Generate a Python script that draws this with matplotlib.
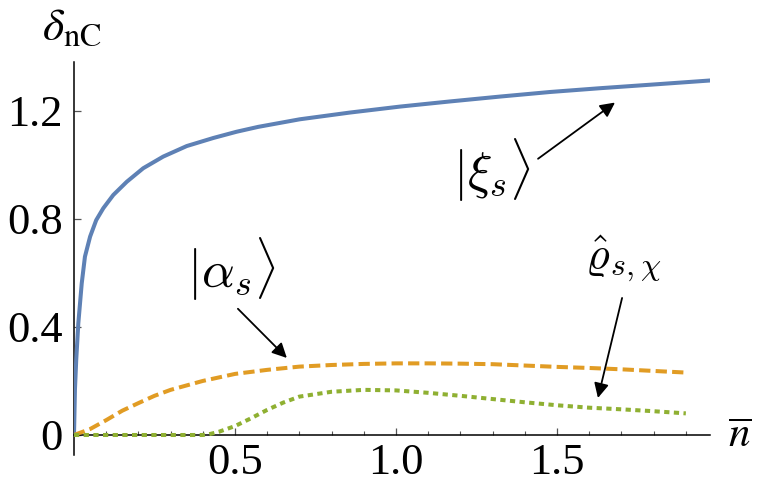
import matplotlib
matplotlib.use("Agg")
import matplotlib.pyplot as plt
import numpy as np

# ---- data ----
xi_x = [0.0, 0.003, 0.007, 0.0134, 0.024, 0.034, 0.050, 0.069, 0.091, 0.122, 0.164,
        0.215, 0.277, 0.350, 0.433, 0.505, 0.572, 0.701, 0.857, 1.012, 1.167, 1.322,
        1.478, 1.633, 1.79, 1.98]
xi_y = [0.0, 0.17, 0.28, 0.413, 0.561, 0.660, 0.734, 0.795, 0.839, 0.888, 0.937,
        0.987, 1.030, 1.069, 1.099, 1.122, 1.140, 1.168, 1.193, 1.215, 1.234, 1.252,
        1.269, 1.283, 1.296, 1.312]

alpha_x = [0.0, 0.05, 0.1, 0.15, 0.2, 0.25, 0.3, 0.4, 0.5, 0.6, 0.7, 0.8, 0.9, 1.0,
           1.1, 1.2, 1.3, 1.4, 1.5, 1.6, 1.7, 1.8, 1.9]
alpha_y = [0.0, 0.022, 0.055, 0.09, 0.118, 0.145, 0.167, 0.20, 0.226, 0.241, 0.253,
           0.259, 0.263, 0.265, 0.265, 0.264, 0.262, 0.257, 0.252, 0.248, 0.243, 0.237, 0.231]

rho_x = [0.0, 0.2, 0.4, 0.42, 0.45, 0.5, 0.55, 0.6, 0.65, 0.7, 0.8, 0.9, 1.0, 1.1, 1.2,
         1.3, 1.4, 1.5, 1.6, 1.7, 1.8, 1.9]
rho_y = [0.0, 0.0, 0.0, 0.003, 0.012, 0.033, 0.062, 0.093, 0.12, 0.142, 0.160, 0.167,
         0.165, 0.156, 0.145, 0.133, 0.121, 0.110, 0.101, 0.095, 0.088, 0.080]

y_ticks = [0.0, 0.4, 0.8, 1.2]
y_ticklabels = ["0", "0.4", "0.8", "1.2"]
x_ticks = [0.5, 1.0, 1.5]
x_ticklabels = ["0.5", "1.0", "1.5"]
x_minor = [0.1, 0.2, 0.3, 0.4, 0.6, 0.7, 0.8, 0.9, 1.1, 1.2, 1.3, 1.4, 1.6, 1.7, 1.8, 1.9]

curve_labels = [r"$|\xi_s\rangle$", r"$|\alpha_s\rangle$", r"$\hat{\varrho}_{s,\chi}$"]
y_label = r"$\delta_{\mathrm{nC}}$"
x_label = r"$\overline{n}$"

# ---- style ----
plt.rcParams["mathtext.fontset"] = "stix"
plt.rcParams["font.family"] = ["Liberation Serif", "DejaVu Serif"]

W, H = 757, 486
fig = plt.figure(figsize=(W / 100, H / 100), dpi=100)
left, right, top, bottom = 74, 710, 62, 455
ax = fig.add_axes([left / W, 1 - bottom / H, (right - left) / W, (bottom - top) / H])

blue = "#5E81B5"
orange = "#E19C24"
green = "#8FB032"

ax.plot(xi_x, xi_y, color=blue, lw=2.9, solid_capstyle="butt", solid_joinstyle="round", zorder=3)
ax.plot(alpha_x, alpha_y, color=orange, lw=2.9, dashes=(2.8, 1.3), dash_capstyle="butt", zorder=3)
ax.plot(rho_x, rho_y, color=green, lw=2.9, dashes=(1.3, 1.1), dash_capstyle="butt", zorder=3)

ax.set_xlim(0, 1.975)
ax.set_ylim(-0.074, 1.38)

for s in ["top", "right"]:
    ax.spines[s].set_visible(False)
ax.spines["bottom"].set_position(("data", 0))
ax.spines["left"].set_position(("data", 0))
for s in ["bottom", "left"]:
    ax.spines[s].set_linewidth(1.1)
    ax.spines[s].set_color("black")

ax.set_xticks(x_ticks)
ax.set_xticklabels(x_ticklabels)
ax.set_xticks(x_minor, minor=True)
ax.set_yticks(y_ticks)
ax.set_yticklabels(y_ticklabels)

ax.tick_params(axis="both", which="major", direction="in", length=5, width=0.9,
               color="#555555", labelsize=32)
ax.tick_params(axis="x", which="minor", direction="in", length=3, width=0.8, color="#555555")
ax.tick_params(axis="x", which="major", pad=6)
ax.tick_params(axis="y", which="major", pad=8)


def ftext(px, py, s, **kw):
    return fig.text(px / W, 1 - py / H, s, **kw)


# axis labels
ftext(72, 29, y_label, fontsize=33, ha="center", va="center")
ftext(740, 437, x_label, fontsize=31, ha="center", va="center")

# curve labels (Computer Modern, as in the reference)
label_px = [(492, 170, 37), (231, 269, 37), (623, 259, 33)]
for lab, (px, py, fs) in zip(curve_labels, label_px):
    ftext(px, py, lab, fontsize=fs, ha="center", va="center", math_fontfamily="cm")

# arrows
arrows = [((1.441, 1.022), (1.680, 1.23)),
          ((0.509, 0.467), (0.661, 0.285)),
          ((1.702, 0.507), (1.627, 0.137))]
for tail, head in arrows:
    ax.annotate("", xy=head, xytext=tail,
                arrowprops=dict(arrowstyle="-|>", mutation_scale=22, lw=1.3,
                                color="black", shrinkA=0, shrinkB=0))

fig.savefig("out.png", dpi=100)
